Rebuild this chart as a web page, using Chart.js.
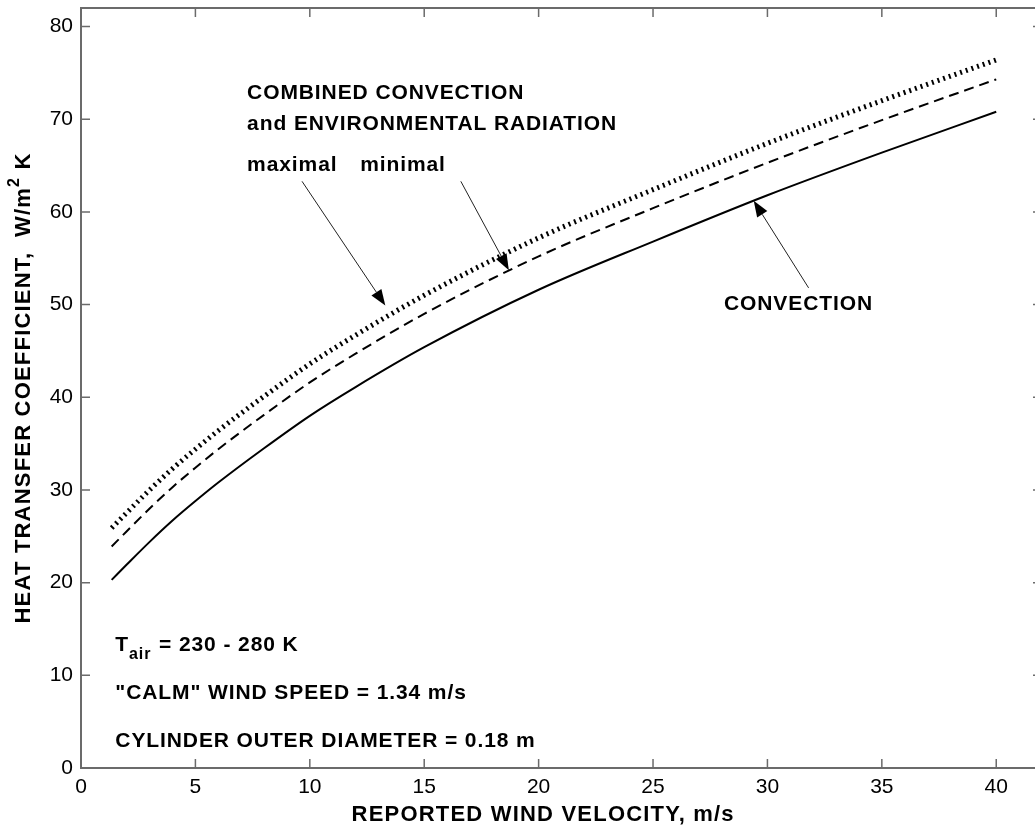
<!DOCTYPE html>
<html>
<head>
<meta charset="utf-8">
<script src="https://cdn.jsdelivr.net/npm/chart.js@4.4.1/dist/chart.umd.min.js"></script>
<style>
  html, body { margin: 0; padding: 0; background: #fff; overflow: hidden; }
  #wrap { width: 1045px; height: 835px; }
</style>
</head>
<body>
<div id="wrap"><canvas id="chart" width="1045" height="835"></canvas></div>
<script>
// wind velocity, m/s (curves start at the "calm" speed)
const windSpeed  = [1.34, 2, 3, 4, 5, 6, 8, 10, 12, 15, 20, 25, 30, 35, 40];
// heat transfer coefficient, W/m2 K
const convection = [20.3, 21.95, 24.4, 26.7, 28.8, 30.8, 34.5, 38.0, 41.1, 45.4, 51.6, 56.8, 61.8, 66.4, 70.8];
const minimalRad = [23.9, 25.55, 28.0, 30.3, 32.4, 34.4, 38.1, 41.6, 44.7, 49.0, 55.2, 60.4, 65.3, 69.9, 74.3];
const maximalRad = [25.9, 27.55, 30.0, 32.3, 34.4, 36.4, 40.1, 43.6, 46.7, 51.0, 57.2, 62.4, 67.4, 72.0, 76.4];

const xTicks = [0, 5, 10, 15, 20, 25, 30, 35, 40];
const yTicks = [0, 10, 20, 30, 40, 50, 60, 70, 80];

const FONT = '"Liberation Sans", Arial, Helvetica, sans-serif';

const toPoints = (ys) => windSpeed.map((x, i) => ({ x, y: ys[i] }));

// annotation texts, in data coordinates
const notes = [
    { text: 'COMBINED CONVECTION', x: 7.26, y: 72.8 },
    { text: 'and ENVIRONMENTAL RADIATION', x: 7.26, y: 69.5 },
    { text: 'maximal', x: 7.26, y: 65.0 },
    { text: 'minimal', x: 12.2, y: 65.0 },
    { text: 'CONVECTION', x: 28.1, y: 50.0 },
    { text: '"CALM" WIND SPEED = 1.34 m/s', x: 1.5, y: 8.1 },
    { text: 'CYLINDER OUTER DIAMETER = 0.18 m', x: 1.5, y: 2.9 }
];

const arrows = [
    { from: [9.66, 63.3], to: [13.3, 49.9] },
    { from: [16.6, 63.3], to: [18.7, 53.7] },
    { from: [31.8, 51.8], to: [29.4, 61.2] }
];

const decor = {
    id: 'decor',
    afterDraw(chart) {
        const { ctx, chartArea: a, scales: { x, y } } = chart;
        ctx.save();

        // box + inward ticks on all sides
        ctx.strokeStyle = '#6b6b6b';
        ctx.lineWidth = 2;
        ctx.strokeRect(a.left, a.top, a.right - a.left, a.bottom - a.top);
        ctx.lineWidth = 1.5;
        ctx.beginPath();
        xTicks.forEach(v => {
            const px = x.getPixelForValue(v);
            ctx.moveTo(px, a.bottom); ctx.lineTo(px, a.bottom - 9);
            ctx.moveTo(px, a.top); ctx.lineTo(px, a.top + 9);
        });
        yTicks.forEach(v => {
            const py = y.getPixelForValue(v);
            ctx.moveTo(a.left, py); ctx.lineTo(a.left + 9, py);
            ctx.moveTo(a.right, py); ctx.lineTo(a.right - 9, py);
        });
        ctx.stroke();

        // arrows
        ctx.strokeStyle = '#222';
        ctx.fillStyle = '#000';
        ctx.lineWidth = 1;
        arrows.forEach(ar => {
            const x0 = x.getPixelForValue(ar.from[0]), y0 = y.getPixelForValue(ar.from[1]);
            const x1 = x.getPixelForValue(ar.to[0]), y1 = y.getPixelForValue(ar.to[1]);
            const ang = Math.atan2(y1 - y0, x1 - x0);
            const len = 16, half = 6;
            ctx.beginPath();
            ctx.moveTo(x0, y0);
            ctx.lineTo(x1 - len * Math.cos(ang), y1 - len * Math.sin(ang));
            ctx.stroke();
            ctx.beginPath();
            ctx.moveTo(x1, y1);
            ctx.lineTo(x1 - len * Math.cos(ang) + half * Math.sin(ang), y1 - len * Math.sin(ang) - half * Math.cos(ang));
            ctx.lineTo(x1 - len * Math.cos(ang) - half * Math.sin(ang), y1 - len * Math.sin(ang) + half * Math.cos(ang));
            ctx.closePath();
            ctx.fill();
        });

        // texts
        ctx.fillStyle = '#000';
        ctx.textBaseline = 'middle';
        ctx.textAlign = 'left';
        ctx.letterSpacing = '0.9px';
        ctx.font = 'bold 21px ' + FONT;
        notes.forEach(n => ctx.fillText(n.text, x.getPixelForValue(n.x), y.getPixelForValue(n.y)));

        // T_air line
        let tx = x.getPixelForValue(1.5);
        const ty = y.getPixelForValue(13.3);
        ctx.fillText('T', tx, ty);
        tx += ctx.measureText('T').width;
        ctx.font = 'bold 16px ' + FONT;
        ctx.fillText('air', tx, ty + 10);
        tx += ctx.measureText('air').width + 1;
        ctx.font = 'bold 21px ' + FONT;
        ctx.fillText(' = 230 - 280 K', tx, ty);

        // x axis title
        ctx.letterSpacing = '1.2px';
        ctx.font = 'bold 22px ' + FONT;
        ctx.textAlign = 'center';
        ctx.fillText('REPORTED WIND VELOCITY, m/s', x.getPixelForValue(20.2), 815);

        // y axis title (rotated, with superscript)
        const parts = [
            { t: 'HEAT TRANSFER COEFFICIENT,  W/m', f: 'bold 22px ', dy: 0 },
            { t: '2', f: 'bold 16px ', dy: -9 },
            { t: ' K', f: 'bold 22px ', dy: 0 }
        ];
        let total = 0;
        parts.forEach(p => { ctx.font = p.f + FONT; p.w = ctx.measureText(p.t).width; total += p.w; });
        ctx.translate(24, (a.top + a.bottom) / 2);
        ctx.rotate(-Math.PI / 2);
        ctx.textAlign = 'left';
        let px = -total / 2;
        parts.forEach(p => {
            ctx.font = p.f + FONT;
            ctx.fillText(p.t, px, p.dy);
            px += p.w;
        });
        ctx.restore();
    }
};

new Chart(document.getElementById('chart'), {
    type: 'line',
    data: {
        datasets: [
            {
                label: 'maximal',
                data: toPoints(maximalRad),
                borderColor: '#000',
                borderWidth: 5,
                borderDash: [2, 4],
                borderCapStyle: 'butt',
                pointRadius: 0,
                cubicInterpolationMode: 'monotone'
            },
            {
                label: 'minimal',
                data: toPoints(minimalRad),
                borderColor: '#000',
                borderWidth: 2,
                borderDash: [10, 6],
                pointRadius: 0,
                cubicInterpolationMode: 'monotone'
            },
            {
                label: 'convection',
                data: toPoints(convection),
                borderColor: '#000',
                borderWidth: 2,
                pointRadius: 0,
                cubicInterpolationMode: 'monotone'
            }
        ]
    },
    options: {
        responsive: false,
        animation: false,
        layout: { padding: { top: 8, right: 3, left: 0, bottom: 0 } },
        plugins: {
            legend: { display: false },
            tooltip: { enabled: false }
        },
        scales: {
            x: {
                type: 'linear',
                min: 0,
                max: 42,
                grid: { display: false, drawTicks: false },
                border: { display: false },
                afterBuildTicks: (s) => { s.ticks = xTicks.map(v => ({ value: v })); },
                afterFit: (s) => { s.height = 67; s.paddingLeft = 0; s.paddingRight = 0; },
                ticks: {
                    color: '#000',
                    padding: 7,
                    maxRotation: 0,
                    font: { family: FONT, size: 21 }
                }
            },
            y: {
                min: 0,
                max: 82,
                grid: { display: false, drawTicks: false },
                border: { display: false },
                afterBuildTicks: (s) => { s.ticks = yTicks.map(v => ({ value: v })); },
                afterFit: (s) => { s.width = 81; s.paddingTop = 0; s.paddingBottom = 0; },
                ticks: {
                    color: '#000',
                    padding: 8,
                    font: { family: FONT, size: 21 }
                }
            }
        }
    },
    plugins: [decor]
});
</script>
</body>
</html>
